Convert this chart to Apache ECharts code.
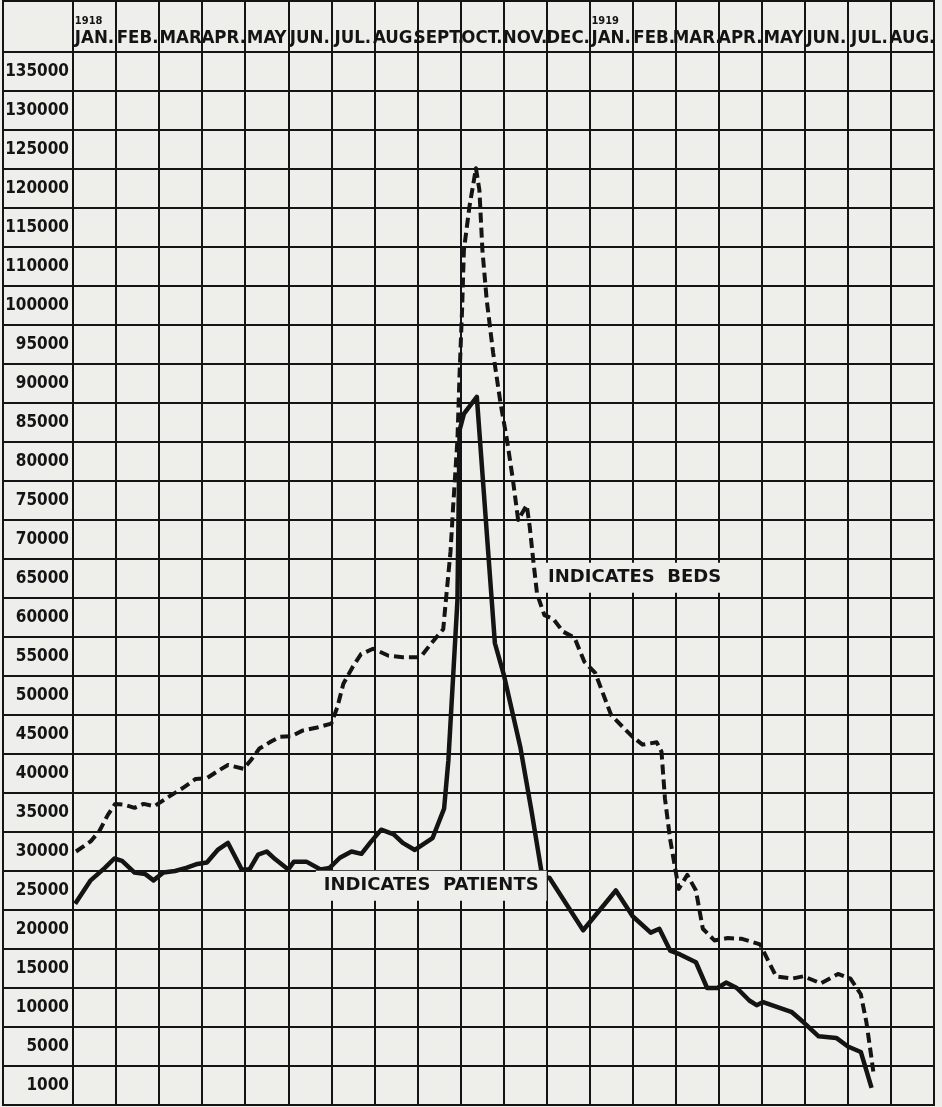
<!DOCTYPE html>
<html><head><meta charset="utf-8">
<script src="https://cdn.jsdelivr.net/npm/echarts@6/dist/echarts.min.js"></script>
<style>html,body{margin:0;padding:0;background:#eeeeea}#c{width:942px;height:1107px}</style>
</head><body><div id="c"></div>
<script>
// ---- data ----
const months = ['JAN.','FEB.','MAR','APR.','MAY','JUN.','JUL.','AUG.','SEPT.','OCT.','NOV.','DEC.',
                'JAN.','FEB.','MAR.','APR.','MAY','JUN.','JUL.','AUG.'];
const yearMarks = {0: '1918', 12: '1919'};
const yTickLabels = ['135000','130000','125000','120000','115000','110000','100000','95000','90000',
  '85000','80000','75000','70000','65000','60000','55000','50000','45000','40000','35000','30000',
  '25000','20000','15000','10000','5000','1000'];

// positions in months from Jan 1918 (0 = start of Jan 1918)
const bedsAt = [0.07,0.41,0.61,0.81,0.98,1.18,1.43,1.64,1.89,2.19,2.54,2.85,3.11,3.36,3.6,3.96,4.13,4.33,4.6,4.8,
  5.08,5.33,5.67,6.0,6.14,6.28,6.49,6.69,6.97,7.33,7.66,8.07,8.31,8.6,8.66,8.77,8.83,8.93,8.98,9.04,9.08,9.21,9.36,
  9.44,9.51,9.61,9.76,9.93,10.08,10.22,10.34,10.54,10.61,10.69,10.78,10.95,11.16,11.38,11.65,11.88,12.13,12.5,12.8,
  13.0,13.23,13.56,13.67,13.75,13.87,14.07,14.27,14.47,14.63,14.9,15.21,15.54,15.96,16.33,16.7,16.97,17.37,17.77,
  18.06,18.3,18.43,18.51,18.59];
const beds = [32500,33800,35100,37200,38600,38500,38100,38600,38300,39400,40600,41800,41900,42800,43600,43100,44200,45700,46600,47200,
  47300,48000,48400,48900,51000,54000,56100,57800,58500,57600,57400,57400,59100,61000,64600,71000,76700,85300,93800,102300,109600,115200,120100,
  117300,109600,103200,96400,90000,85300,80100,75000,76900,74100,69900,65500,62800,62300,60700,59900,56800,55400,50000,48300,
  47200,46200,46500,45300,39300,34100,27700,29500,27500,22600,21100,21400,21300,20600,16500,16200,16500,15600,16800,
  16200,14200,10600,7500,4300];

const patientsAt = [0.05,0.41,0.74,0.96,1.14,1.43,1.68,1.87,2.1,2.37,2.63,2.89,3.11,3.36,3.6,3.92,4.1,4.3,4.5,4.7,
  5.0,5.13,5.42,5.75,5.96,6.2,6.47,6.7,6.9,7.16,7.45,7.66,7.94,8.35,8.62,8.72,8.93,8.98,9.08,9.38,9.72,9.8,10.01,
  10.39,10.66,10.9,11.07,11.85,12.61,13.0,13.42,13.62,13.87,14.1,14.47,14.73,14.97,15.17,15.42,15.71,15.88,16.03,
  16.7,16.97,17.32,17.73,18.0,18.3,18.55];
const patients = [25800,28800,30400,31600,31300,29800,29600,28800,29800,30000,30400,30900,31100,32700,33600,30200,30200,32100,32500,31500,
  30200,31200,31200,30200,30400,31700,32500,32200,33600,35300,34700,33600,32700,34200,38000,44200,64700,86500,88600,90800,65200,59200,55100,
  45900,37400,29300,29100,22400,27500,24200,22100,22600,19800,19300,18300,15000,15000,15700,15000,13400,12800,13200,
  11900,10600,8800,8600,7500,6800,2200];

// ---- chart ----
const INK = '#141414';
const BG = '#eeeeea';
const FONT = '"DejaVu Sans Condensed", "Liberation Sans Narrow", "DejaVu Sans", sans-serif';
const GL = {show: true, lineStyle: {color: INK, width: 2}};
const zip = (a, b) => a.map((x, i) => [x, b[i]]);
const chart = echarts.init(document.getElementById('c'), null, {renderer: 'canvas'});

const gridBase = {show: true, borderColor: INK, borderWidth: 2, backgroundColor: 'transparent', containLabel: false};
const noteLabel = (text) => ({show: true, position: 'right', distance: 0, formatter: text,
  color: INK, fontFamily: '"DejaVu Sans", sans-serif', fontWeight: 'bold', fontSize: 18,
  backgroundColor: BG, padding: [6, 8]});
chart.setOption({
  backgroundColor: BG,
  animation: false,
  grid: [
    Object.assign({left: 73, top: 1, width: 861, height: 51}, gridBase),   // header
    Object.assign({left: 3, top: 1, width: 70, height: 51}, gridBase),     // corner
    Object.assign({left: 3, top: 52, width: 70, height: 1053}, gridBase),  // label column
    Object.assign({left: 73, top: 52, width: 861, height: 1053}, gridBase) // plot
  ],
  xAxis: [
    {gridIndex: 0, type: 'category', data: months, position: 'bottom',
     axisLine: {show: false}, axisTick: {show: false},
     splitLine: Object.assign({interval: 0}, GL),
     axisLabel: {inside: true, interval: 0, margin: 4, color: INK, fontFamily: FONT,
       formatter: (v, i) => yearMarks[i] ? '{yr|' + yearMarks[i] + '}\n{mo|' + v + '}' : '{mo|' + v + '}',
       rich: {
         yr: {fontSize: 11, fontWeight: 'bold', align: 'left', lineHeight: 13, fontFamily: FONT, color: INK},
         mo: {fontSize: 18.5, fontWeight: 'bold', lineHeight: 20, fontFamily: FONT, color: INK}
       }}},
    {gridIndex: 1, type: 'value', show: false},
    {gridIndex: 2, type: 'value', show: false},
    {gridIndex: 3, type: 'value', min: 0, max: 20, interval: 1,
     axisLine: {show: false}, axisTick: {show: false}, axisLabel: {show: false}, splitLine: GL}
  ],
  yAxis: [
    {gridIndex: 0, type: 'value', show: false},
    {gridIndex: 1, type: 'value', show: false},
    {gridIndex: 2, type: 'category', data: yTickLabels.slice().reverse(), position: 'right',
     axisLine: {show: false}, axisTick: {show: false},
     splitLine: Object.assign({interval: 0}, GL),
     axisLabel: {inside: true, interval: 0, margin: 4, color: INK, fontFamily: FONT,
       fontWeight: 'bold', fontSize: 17}},
    {gridIndex: 3, type: 'value', min: 0, max: 135000, interval: 5000,
     axisLine: {show: false}, axisTick: {show: false}, axisLabel: {show: false}, splitLine: GL}
  ],
  series: [
    {name: 'Beds', type: 'line', xAxisIndex: 3, yAxisIndex: 3, data: zip(bedsAt, beds),
     showSymbol: false, symbol: 'none', z: 3,
     lineStyle: {color: INK, width: 4, type: [10, 5], join: 'round'},
     markPoint: {symbol: 'rect', symbolSize: 0, silent: true,
       data: [{coord: [10.85, 67600], value: 0, label: noteLabel('INDICATES  BEDS')}]}},
    {name: 'Patients', type: 'line', xAxisIndex: 3, yAxisIndex: 3, data: zip(patientsAt, patients),
     showSymbol: false, symbol: 'none', z: 3,
     lineStyle: {color: INK, width: 4.5, join: 'round'},
     markPoint: {symbol: 'rect', symbolSize: 0, silent: true,
       data: [{coord: [5.64, 28100], value: 0, label: noteLabel('INDICATES  PATIENTS')}]}}
  ]
});
</script></body></html>
